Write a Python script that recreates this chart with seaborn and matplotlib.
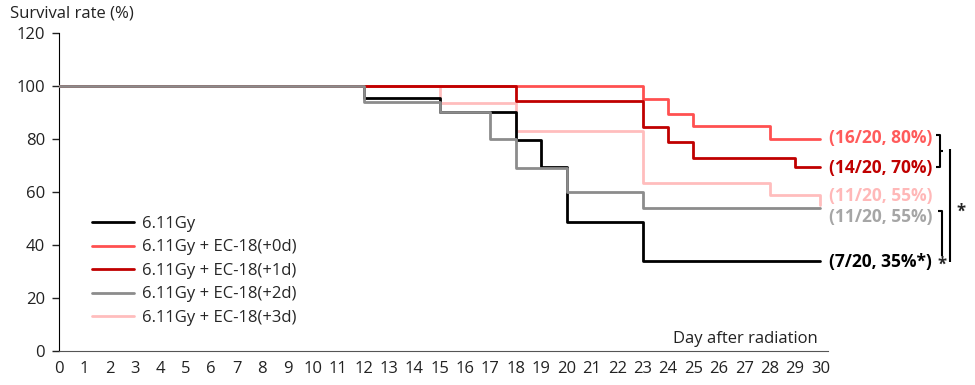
import pandas as pd
import numpy as np
import matplotlib
matplotlib.use("Agg")
import matplotlib.pyplot as plt
import seaborn as sns

groups = ["6.11Gy", "6.11Gy + EC-18(+0d)", "6.11Gy + EC-18(+1d)",
          "6.11Gy + EC-18(+2d)", "6.11Gy + EC-18(+3d)"]
colors = ["#000000", "#FF5050", "#C00000", "#8C8C8C", "#FFBDBD"]

days_ctrl = [0, 12, 15, 18, 19, 20, 23, 30]
rate_ctrl = [100, 95.5, 90, 79.5, 69.5, 48.5, 34, 34]
days_0d = [0, 23, 24, 25, 28, 30]
rate_0d = [100, 95, 89.5, 85, 80, 80]
days_1d = [0, 18, 23, 24, 25, 29, 30]
rate_1d = [100, 94.5, 84.5, 79, 73, 69.5, 69.5]
days_2d = [0, 12, 15, 17, 18, 20, 23, 30]
rate_2d = [100, 94, 90, 80, 69, 60, 54, 54]
days_3d = [0, 15, 18, 23, 28, 30]
rate_3d = [100, 93.5, 83, 63.5, 59, 55]

end_labels = ["(7/20, 35%*)", "(16/20, 80%)", "(14/20, 70%)",
              "(11/20, 55%)", "(11/20, 55%)"]
label_y = [33.4, 80.4, 69, 50.7, 58.5]
label_colors = ["#000000", "#FF5B5B", "#C00000", "#A6A6A6", "#FFB8B8"]

all_days = [days_ctrl, days_0d, days_1d, days_2d, days_3d]
all_rates = [rate_ctrl, rate_0d, rate_1d, rate_2d, rate_3d]
df = pd.concat([pd.DataFrame({"day": d, "rate": r, "group": g})
                for d, r, g in zip(all_days, all_rates, groups)], ignore_index=True)

sns.set_style("white")
plt.rcParams["font.family"] = ["Open Sans", "DejaVu Sans"]

fig = plt.figure(figsize=(9.75, 3.85), dpi=100)
ax = fig.add_axes([59 / 975, 34 / 385, 769 / 975, 318 / 385])

sns.lineplot(data=df, x="day", y="rate", hue="group", hue_order=groups,
             palette=colors, drawstyle="steps-post", estimator=None,
             linewidth=2, ax=ax)

# stacking order as in the original (gray on top, pink at the bottom)
for line, z in zip(ax.lines[:5], [3, 2, 4, 5, 1]):
    line.set_zorder(z)

ax.set_xlim(0, 30.3)
ax.set_ylim(0, 120)
ax.set_xticks(range(0, 31))
ax.set_yticks(range(0, 121, 20))
ax.tick_params(axis="x", length=0, pad=7, labelsize=12, colors="#222222")
ax.tick_params(axis="y", length=5, width=1, pad=5, labelsize=12,
               direction="out", left=True, colors="#222222")
ax.set_xticks([0], minor=True)
ax.tick_params(axis="x", which="minor", length=5, width=1, bottom=True)
ax.set_xlabel("")
ax.set_ylabel("")
for s in ["top", "right"]:
    ax.spines[s].set_visible(False)
ax.spines["left"].set_color("#000000")
ax.spines["bottom"].set_color("#555555")

fig.text(10 / 975, 1 - 14 / 385, "Survival rate (%)", fontsize=12,
         va="center", ha="left", color="#222222")
ax.text(29.9, 4.5, "Day after radiation", fontsize=12, ha="right",
        va="center", color="#222222")

ax.legend(loc="upper left", bbox_to_anchor=(0.043, 0.425), frameon=False,
          fontsize=12, handlelength=2.5, handletextpad=0.5,
          labelspacing=0.45, borderpad=0, borderaxespad=0)

for txt, yy, c in zip(end_labels, label_y, label_colors):
    ax.text(30.35, yy, txt, color=c, fontsize=12.5, fontweight="bold",
            va="center", ha="left", clip_on=False)

# significance brackets
kw = dict(color="black", lw=1.5, clip_on=False, solid_capstyle="butt")
ax.plot([34.55, 34.7, 34.7, 34.55], [81.6, 81.6, 69.5, 69.5], **kw)
ax.plot([34.7, 34.85], [75.4, 75.4], **kw)
ax.plot([35.1, 35.1], [76.2, 33.4], **kw)
ax.plot([34.65, 34.8, 34.8], [53, 53, 36], **kw)
ax.text(35.55, 52.6, "*", fontsize=12, fontweight="bold", ha="center",
        va="center", clip_on=False)
ax.text(34.78, 32.5, "*", fontsize=12, fontweight="bold", ha="center",
        va="center", clip_on=False)

fig.savefig("out.png", dpi=100)
